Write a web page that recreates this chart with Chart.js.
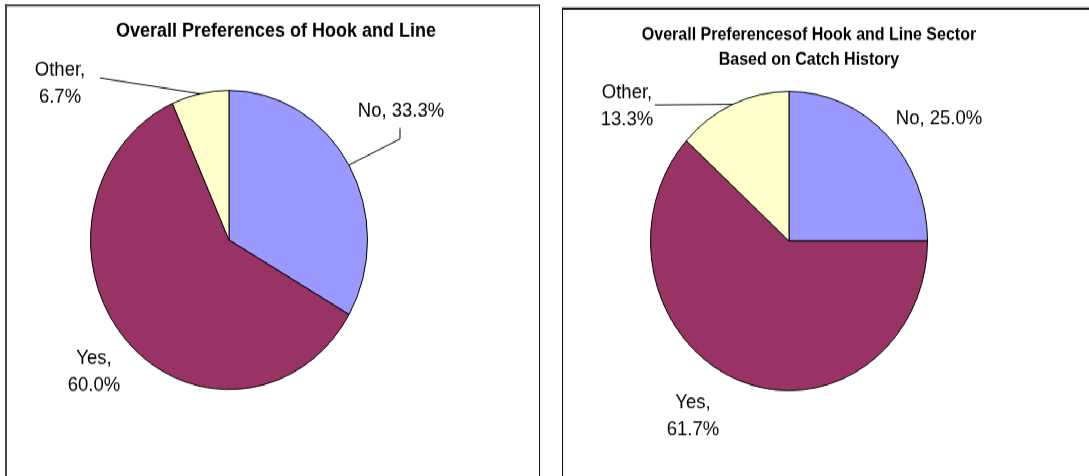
<!DOCTYPE html>
<html>
<head>
<meta charset="utf-8">
<script src="https://cdn.jsdelivr.net/npm/chart.js@4"></script>
<style>
  html, body { margin: 0; padding: 0; background: #fff; overflow: hidden; }
  body { width: 1089px; height: 476px; position: relative; }
  /* charts are laid out on a stage that gets stretched back vertically */
  #stage { position: absolute; left: 0; top: 0; width: 1089px; height: 441px; transform: scaleY(1.08); transform-origin: 0 0; }
  .panel { position: absolute; background: #fff; }
  #panel-left { left: 5px; top: 4px; width: 532px; height: 460px; border: 2px solid #444; border-right: 1px solid #111; border-bottom: none; }
  #panel-right { left: 562px; top: 7px; width: 560px; height: 460px; border: 1px solid #000; border-top-width: 2px; border-bottom: none; }
  .chart-box { position: absolute; left: 0; top: 0; width: 1089px; height: 441px; }
</style>
</head>
<body>
<div id="stage">
  <div class="panel" id="panel-left"></div>
  <div class="panel" id="panel-right"></div>
  <div class="chart-box"><canvas id="chartOverall"></canvas></div>
  <div class="chart-box"><canvas id="chartCatch"></canvas></div>
</div>
<script>
const categories = ['No', 'Yes', 'Other'];
const overallShares = [33.3, 60.0, 6.7];
const catchHistoryShares = [25.0, 61.7, 13.3];
const sliceColors = ['#9999FF', '#993366', '#FFFFCC'];
const overallTitle = ['Overall Preferences of Hook and Line'];
const catchHistoryTitle = ['Overall Preferencesof Hook and Line Sector', 'Based on Catch History'];

const STRETCH = 1.08;
const sy = y => y / STRETCH;
const FONT = '"Liberation Sans", Arial, sans-serif';

// --- Title + data labels with leader lines ---
const calloutLabels = {
    id: 'calloutLabels',
    afterDatasetsDraw(chart, args, opts) {
        const ctx = chart.ctx;
        const meta = chart.getDatasetMeta(0);
        const values = chart.data.datasets[0].data;
        ctx.save();
        ctx.fillStyle = '#000';
        ctx.strokeStyle = '#000';
        ctx.lineWidth = 1;
        ctx.textAlign = 'center';
        ctx.textBaseline = 'middle';

        ctx.font = 'bold ' + opts.titleSize + 'px ' + FONT;
        opts.title.forEach((line, i) => {
            ctx.fillText(line, opts.titleX, sy(opts.titleY + i * 25));
        });

        ctx.font = '18.5px ' + FONT;
        opts.spots.forEach((spot, i) => {
            const name = chart.data.labels[i];
            const pct = values[i].toFixed(1) + '%';
            const lines = spot.wrap ? [name + ',', pct] : [name + ', ' + pct];
            lines.forEach((t, k) => ctx.fillText(t, spot.x, sy(spot.y + k * 27)));

            if (spot.leader) {
                const arc = meta.data[i];
                const p = arc.getProps(['x', 'y', 'startAngle', 'endAngle', 'outerRadius'], true);
                const mid = (p.startAngle + p.endAngle) / 2;
                ctx.beginPath();
                ctx.moveTo(spot.leader[0][0], sy(spot.leader[0][1]));
                spot.leader.slice(1).forEach(pt => ctx.lineTo(pt[0], sy(pt[1])));
                ctx.lineTo(p.x + Math.cos(mid) * p.outerRadius, p.y + Math.sin(mid) * p.outerRadius);
                ctx.stroke();
            }
        });
        ctx.restore();
    }
};

function renderPie(canvasId, shares, titleOpts, center, spots) {
    const ctx = document.getElementById(canvasId).getContext('2d');
    const r = 139;
    const cy = sy(center[1]);
    return new Chart(ctx, {
        type: 'pie',
        data: {
            labels: categories,
            datasets: [{
                data: shares,
                backgroundColor: sliceColors,
                borderColor: '#000',
                borderWidth: 1
            }]
        },
        options: {
            responsive: true,
            maintainAspectRatio: false,
            animation: false,
            events: [],
            layout: {
                padding: {
                    left: center[0] - r,
                    right: 1089 - (center[0] + r),
                    top: cy - r,
                    bottom: 441 - (cy + r)
                }
            },
            plugins: {
                legend: { display: false },
                title: { display: false },
                tooltip: { enabled: false },
                calloutLabels: Object.assign({ spots }, titleOpts)
            }
        },
        plugins: [calloutLabels]
    });
}

renderPie('chartOverall', overallShares,
    { title: overallTitle, titleSize: 18, titleX: 276, titleY: 31 },
    [229, 240], [
        { x: 401, y: 111, leader: [[400, 128], [400, 139]] },
        { x: 94, y: 358, wrap: true },
        { x: 60, y: 70, wrap: true, leader: [[100, 78]] }
    ]);

renderPie('chartCatch', catchHistoryShares,
    { title: catchHistoryTitle, titleSize: 16, titleX: 809, titleY: 35 },
    [789, 241], [
        { x: 939, y: 119 },
        { x: 693, y: 403, wrap: true },
        { x: 627, y: 93, wrap: true, leader: [[655, 105]] }
    ]);
</script>
</body>
</html>
